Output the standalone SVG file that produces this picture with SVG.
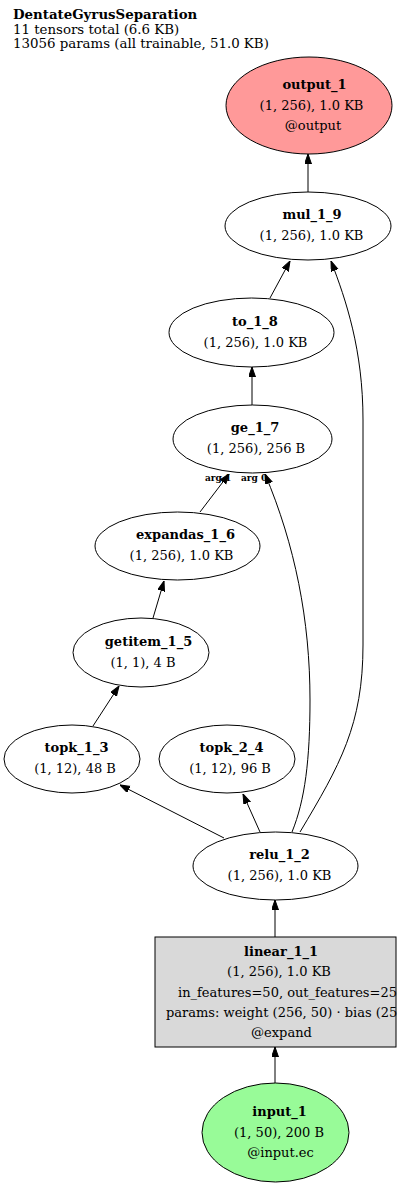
<svg xmlns="http://www.w3.org/2000/svg" width="400" height="1187" viewBox="0 0 400 1187">
<style>
text{font-family:"DejaVu Serif","Liberation Serif",serif;font-size:13px;fill:#000}
.t{font-weight:bold;text-anchor:middle}
.m{text-anchor:middle}
.hd{font-size:13.35px}
.h{font-weight:bold}
.lbl{font-weight:bold;font-size:9px}
.n{stroke:#000;stroke-width:1;fill:#fff}
.e{stroke:#000;stroke-width:1;fill:none;marker-end:url(#arr)}
</style>
<defs>
<marker id="arr" markerUnits="userSpaceOnUse" markerWidth="10" markerHeight="8" refX="10" refY="3.5" orient="auto">
<path d="M0,0 L10,3.5 L0,7 Z" fill="#000" stroke="#000" stroke-width="1"/>
</marker>
</defs>
<rect width="400" height="1187" fill="#fff"/>
<g id="header">
<text class="h hd" x="13" y="19">DentateGyrusSeparation</text>
<text class="hd" x="13" y="33.5">11 tensors total (6.6 KB)</text>
<text class="hd" x="13" y="48">13056 params (all trainable, 51.0 KB)</text>
</g>
<g id="connectors">
<path class="e" d="M308,193 L308,154"/>
<path class="e" d="M270,298 L290,261"/>
<path class="e" d="M300,832 C340,765 363,725 363,645 L363,420 C363,350 346,300 331,261"/>
<path class="e" d="M252,405 L252,367"/>
<path class="e" d="M200,512 L229,474"/>
<path class="e" d="M292,832 C305,800 310,760 310,700 C310,620 295,545 265,474"/>
<path class="e" d="M153,618 L164,581"/>
<path class="e" d="M93,726 L119,686"/>
<path class="e" d="M224,838 L120,785"/>
<path class="e" d="M260,832 L243,794"/>
<path class="e" d="M275,937 L275,900"/>
<path class="e" d="M275,1083 L275,1047"/>
<text class="lbl" x="205" y="481">arg 1</text>
<text class="lbl" x="241" y="481">arg 0</text>
</g>
<g id="output_1">
<ellipse class="n" cx="309" cy="105.5" rx="83" ry="48.5" style="fill:#ff9999"/>
<text class="t" x="314.5" y="89">output_1</text>
<text class="m" x="311.5" y="110">(1, 256), 1.0 KB</text>
<text class="m" x="313" y="130">@output</text>
</g>
<g id="mul_1_9">
<ellipse class="n" cx="308" cy="226" rx="83" ry="34"/>
<text class="t" x="312" y="219">mul_1_9</text>
<text class="m" x="311.5" y="240">(1, 256), 1.0 KB</text>
</g>
<g id="to_1_8">
<ellipse class="n" cx="251.5" cy="332.5" rx="82.5" ry="34.5"/>
<text class="t" x="255" y="325.5">to_1_8</text>
<text class="m" x="255.5" y="346.5">(1, 256), 1.0 KB</text>
</g>
<g id="ge_1_7">
<ellipse class="n" cx="252.5" cy="439" rx="79.5" ry="34"/>
<text class="t" x="255" y="432">ge_1_7</text>
<text class="m" x="256" y="453">(1, 256), 256 B</text>
</g>
<g id="expandas_1_6">
<ellipse class="n" cx="177.5" cy="546" rx="82.5" ry="34"/>
<text class="t" x="185.5" y="539">expandas_1_6</text>
<text class="m" x="181.5" y="560">(1, 256), 1.0 KB</text>
</g>
<g id="getitem_1_5">
<ellipse class="n" cx="141" cy="652.5" rx="68" ry="34.5"/>
<text class="t" x="148.5" y="645.5">getitem_1_5</text>
<text class="m" x="143" y="666.5">(1, 1), 4 B</text>
</g>
<g id="topk_1_3">
<ellipse class="n" cx="72" cy="759" rx="68" ry="34"/>
<text class="t" x="76.5" y="752">topk_1_3</text>
<text class="m" x="75" y="773">(1, 12), 48 B</text>
</g>
<g id="topk_2_4">
<ellipse class="n" cx="227" cy="759" rx="68" ry="34"/>
<text class="t" x="231.5" y="752">topk_2_4</text>
<text class="m" x="230" y="773">(1, 12), 96 B</text>
</g>
<g id="relu_1_2">
<ellipse class="n" cx="275.5" cy="866" rx="82.5" ry="34"/>
<text class="t" x="279.5" y="859">relu_1_2</text>
<text class="m" x="279.5" y="880">(1, 256), 1.0 KB</text>
</g>
<g id="linear_1_1">
<rect x="155" y="937" width="241" height="110" stroke="#000" stroke-width="1" fill="#d9d9d9"/>
<text class="t" x="281" y="956">linear_1_1</text>
<text class="m" x="279" y="976">(1, 256), 1.0 KB</text>
<text x="178" y="997">in_features=50, out_features=25</text>
<text x="166" y="1017">params: weight (256, 50) · bias (25</text>
<text class="m" x="281.5" y="1037">@expand</text>
</g>
<g id="input_1">
<ellipse class="n" cx="275.5" cy="1132.5" rx="73.5" ry="49.5" style="fill:#98fb98"/>
<text class="t" x="279.5" y="1116">input_1</text>
<text class="m" x="279" y="1137">(1, 50), 200 B</text>
<text class="m" x="280.5" y="1157">@input.ec</text>
</g>
</svg>
